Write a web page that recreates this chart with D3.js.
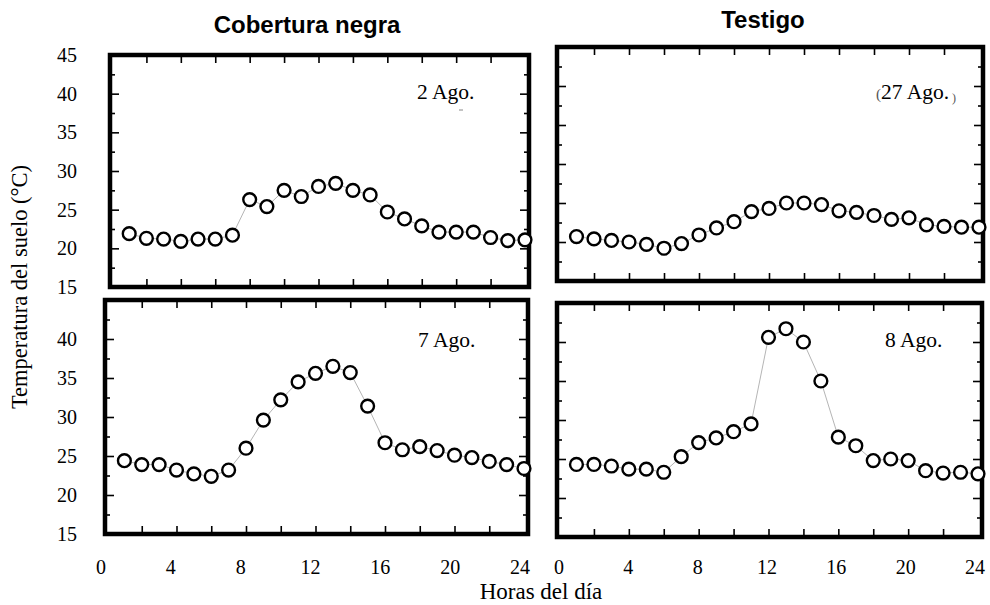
<!DOCTYPE html>
<html><head><meta charset="utf-8">
<script src="https://cdn.jsdelivr.net/npm/d3@7"></script>
<style>body{margin:0;background:#fff} svg{display:block}</style>
</head><body>
<svg id="c" width="990" height="605"></svg>
<script>
// ---- data ----
const hours = [1,2,3,4,5,6,7,8,9,10,11,12,13,14,15,16,17,18,19,20,21,22,23,24];
const xTickLabels = [0,4,8,12,16,20,24];
const yTickLabelsTop = [15,20,25,30,35,40,45];
const yTickLabelsBottom = [15,20,25,30,35,40];
const columnTitles = ["Cobertura negra","Testigo"];
const panelLabels = ["2 Ago.","27 Ago.","7 Ago.","8 Ago."];
const cobertura2Ago = [21.9,21.3,21.2,20.9,21.2,21.2,21.7,26.3,25.4,27.5,26.7,28.0,28.4,27.5,26.9,24.7,23.8,22.9,22.1,22.1,22.1,21.4,21.0,21.1];
const testigo27Ago = [20.7,20.4,20.2,20.0,19.7,19.2,19.8,20.9,21.8,22.6,23.9,24.3,25.0,25.0,24.8,24.0,23.8,23.4,22.9,23.1,22.2,22.0,21.9,21.9];
const cobertura7Ago = [24.4,23.9,23.9,23.2,22.7,22.4,23.2,26.0,29.6,32.2,34.5,35.6,36.5,35.7,31.4,26.7,25.8,26.2,25.7,25.1,24.8,24.3,23.9,23.4];
const testigo8Ago = [24.3,24.3,24.1,23.7,23.7,23.3,25.3,27.1,27.7,28.5,29.5,40.6,41.7,40.0,35.0,27.8,26.7,24.8,25.0,24.8,23.5,23.2,23.3,23.1];

// ---- layout ----
const svg = d3.select("#c");
const serif = "'Liberation Serif','Times New Roman',serif";
const sans = "'Liberation Sans',Arial,sans-serif";

const panels = [
  {data:cobertura2Ago, label:panelLabels[0], x0:110, x1:529, y0:55, y1:287, lx:417, ly:99, yLabels:yTickLabelsTop},
  {data:testigo27Ago, label:panelLabels[1], x0:557, x1:983, y0:47, y1:281, lx:882, ly:99, paren:true},
  {data:cobertura7Ago, label:panelLabels[2], x0:105, x1:528, y0:300, y1:534, lx:418, ly:347, yLabels:yTickLabelsBottom, xl:[101,520]},
  {data:testigo8Ago, label:panelLabels[3], x0:557, x1:982, y0:303, y1:537, lx:885, ly:347, xl:[559,975]}
];

const majorY = d3.range(20, 45, 5);
const minorY = d3.range(17.5, 45, 5);
const xTicks = d3.range(2, 24, 2);

panels.forEach(p => {
  const x = d3.scaleLinear().domain([0,24]).range([p.x0+2, p.x1-4]);
  const y = d3.scaleLinear().domain([15,45]).range([p.y1, p.y0]);
  const g = svg.append("g");

  const tickStyle = sel => { sel.select(".domain").remove(); sel.selectAll("line").attr("stroke","#000").attr("stroke-width",1.6); sel.selectAll("text").remove(); };
  g.append("g").attr("transform",`translate(${p.x0},0)`).call(d3.axisLeft(y).tickValues(majorY).tickSize(-9).tickFormat("")).call(tickStyle);
  g.append("g").attr("transform",`translate(${p.x0},0)`).call(d3.axisLeft(y).tickValues(minorY).tickSize(-5).tickFormat("")).call(tickStyle);
  g.append("g").attr("transform",`translate(${p.x1},0)`).call(d3.axisRight(y).tickValues(majorY).tickSize(-9).tickFormat("")).call(tickStyle);
  g.append("g").attr("transform",`translate(${p.x1},0)`).call(d3.axisRight(y).tickValues(minorY).tickSize(-5).tickFormat("")).call(tickStyle);
  g.append("g").attr("transform",`translate(0,${p.y1})`).call(d3.axisBottom(x).tickValues(xTicks).tickSize(-8).tickFormat("")).call(tickStyle);
  g.append("g").attr("transform",`translate(0,${p.y0})`).call(d3.axisTop(x).tickValues(xTicks).tickSize(-8).tickFormat("")).call(tickStyle);

  g.append("rect").attr("x",p.x0).attr("y",p.y0).attr("width",p.x1-p.x0).attr("height",p.y1-p.y0)
    .attr("fill","none").attr("stroke","#000").attr("stroke-width",4.5);

  const pts = hours.map((h,i)=>[h,p.data[i]]);
  g.append("path").datum(pts).attr("fill","none").attr("stroke","#b5b5b5").attr("stroke-width",1)
    .attr("d", d3.line().x(d=>x(d[0])).y(d=>y(d[1])));
  g.selectAll("circle").data(pts).join("circle")
    .attr("cx",d=>x(d[0])).attr("cy",d=>y(d[1])).attr("r",6.4)
    .attr("fill","#fff").attr("stroke","#000").attr("stroke-width",2.4);

  // panel date label
  if (p.paren) {
    const t = g.append("text").attr("x",p.lx-6).attr("y",p.ly).attr("font-family",serif).attr("font-size",21.5).attr("fill","#000");
    t.append("tspan").attr("font-size",15).attr("fill","#555").text("(");
    t.append("tspan").text(p.label);
    t.append("tspan").attr("font-size",12).attr("dy",3).attr("fill","#555").text(" )");
  } else {
    g.append("text").attr("x",p.lx).attr("y",p.ly).attr("font-family",serif).attr("font-size",21.5).attr("fill","#000").text(p.label);
  }

  if (p.yLabels) {
    g.selectAll("text.yl").data(p.yLabels).join("text").attr("class","yl")
      .attr("x",77).attr("y",d=>y(d)).attr("dy","0.35em").attr("text-anchor","end")
      .attr("font-family",serif).attr("font-size",20).attr("fill","#000").text(d=>d);
  }
  if (p.xl) {
    const xl = d3.scaleLinear().domain([0,24]).range(p.xl);
    g.selectAll("text.xl").data(xTickLabels).join("text").attr("class","xl")
      .attr("x",d=>xl(d)).attr("y",574).attr("text-anchor","middle")
      .attr("font-family",serif).attr("font-size",20).attr("fill","#000").text(d=>d);
  }
});

// small artifact dash under "2 Ago."
svg.append("line").attr("x1",459).attr("x2",463).attr("y1",110).attr("y2",110).attr("stroke","#888").attr("stroke-width",1);

// column titles
svg.append("text").attr("x",307).attr("y",33).attr("text-anchor","middle").attr("font-family",sans).attr("font-weight","bold").attr("font-size",24).text(columnTitles[0]);
svg.append("text").attr("x",763).attr("y",28).attr("text-anchor","middle").attr("font-family",sans).attr("font-weight","bold").attr("font-size",24).text(columnTitles[1]);

// axis titles
svg.append("text").attr("x",541).attr("y",599).attr("text-anchor","middle").attr("font-family",serif).attr("font-size",23).text("Horas del día");
svg.append("text").attr("transform","translate(27,287) rotate(-90)").attr("text-anchor","middle").attr("font-family",serif).attr("font-size",22.5).text("Temperatura del suelo (°C)");
</script>
</body></html>
